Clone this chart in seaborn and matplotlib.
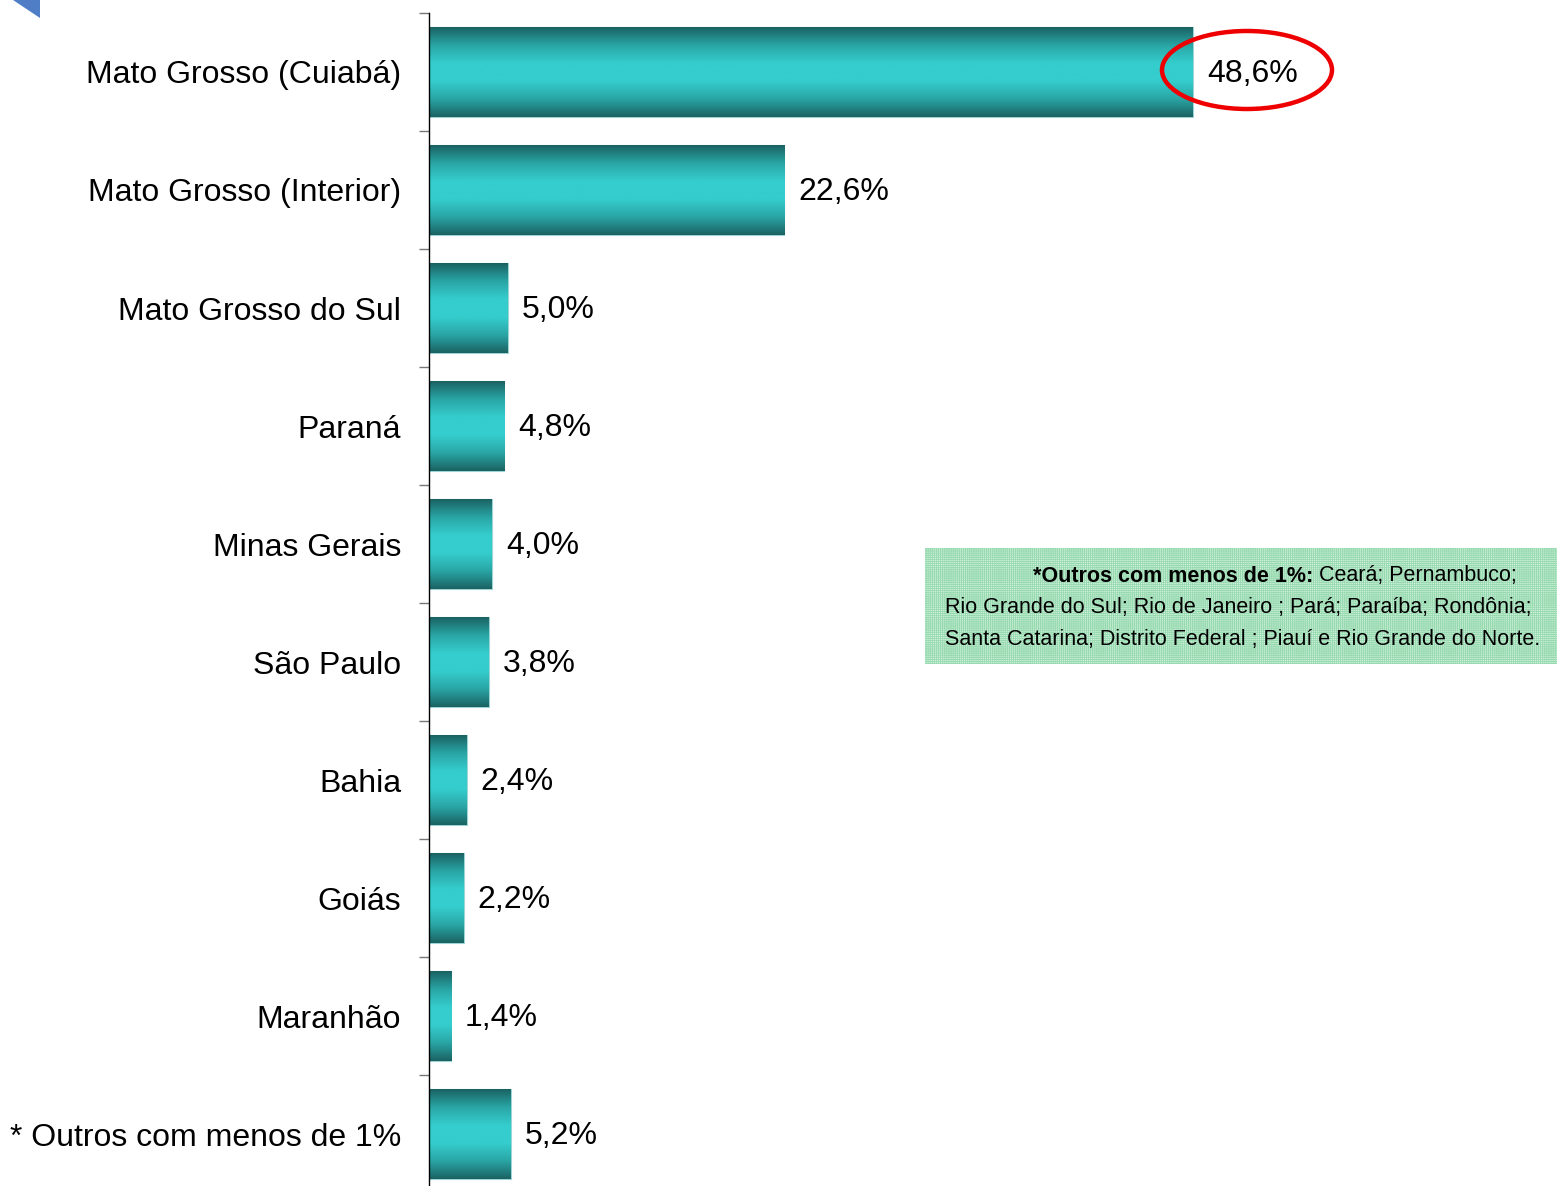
import numpy as np
import pandas as pd
import matplotlib
matplotlib.use("Agg")
import matplotlib.pyplot as plt
import seaborn as sns
from matplotlib.patches import Ellipse, Rectangle, Polygon
from matplotlib.colors import LinearSegmentedColormap

categories = ["Mato Grosso (Cuiabá)", "Mato Grosso (Interior)", "Mato Grosso do Sul",
              "Paraná", "Minas Gerais", "São Paulo", "Bahia", "Goiás", "Maranhão",
              "* Outros com menos de 1%"]
values = [48.6, 22.6, 5.0, 4.8, 4.0, 3.8, 2.4, 2.2, 1.4, 5.2]
value_labels = ["48,6%", "22,6%", "5,0%", "4,8%", "4,0%", "3,8%", "2,4%", "2,2%", "1,4%", "5,2%"]
note_bold = "*Outros com menos de 1%:"
note_lines = [" Ceará; Pernambuco;",
              "Rio Grande do Sul; Rio de Janeiro ; Pará; Paraíba; Rondônia;",
              "Santa Catarina; Distrito Federal ; Piauí e Rio Grande do Norte."]

sns.set_theme(style="white")
plt.rcParams['font.family'] = ['Liberation Sans', 'DejaVu Sans']
plt.rcParams['text.color'] = 'black'

W, H = 1557, 1186
fig = plt.figure(figsize=(W / 100, H / 100), dpi=100)
ax_left = 429 / W
ax_top = (H - 13) / H
ax_bottom = (H - 1193) / H
ax = fig.add_axes([ax_left, ax_bottom, 1 - ax_left, ax_top - ax_bottom])

df = pd.DataFrame({"cat": categories, "val": values})
sns.barplot(data=df, x="val", y="cat", orient="h", width=0.76, color="#33cccc",
            edgecolor="#9fd4d4", linewidth=0.8, ax=ax)

px_per_unit = 15.72
ax.set_xlim(0, (W - 429) / px_per_unit)
ax.set_ylim(len(categories) - 0.5, -0.5)

# gradient fill on bars
cmap = LinearSegmentedColormap.from_list("tealgrad", ["#1b6262", "#2aa5a5", "#35cdcd", "#35cdcd", "#2aa5a5", "#1b6262"])
grad = np.linspace(0, 1, 256).reshape(-1, 1)
for p in ax.patches:
    x0, y0 = p.get_x(), p.get_y()
    w, h = p.get_width(), p.get_height()
    im = ax.imshow(grad, cmap=cmap, aspect="auto", extent=(x0, x0 + w, y0 + h, y0),
                   zorder=p.get_zorder() + 0.1, interpolation="bicubic")
    im.set_clip_path(p)
ax.set_xlim(0, (W - 429) / px_per_unit)
ax.set_ylim(len(categories) - 0.5, -0.5)

# value labels
for i, (v, lab) in enumerate(zip(values, value_labels)):
    ax.text(v + 14 / px_per_unit, i + 0.02, lab, va="center", ha="left", fontsize=23, color="black")

# axes styling
for s in ["top", "right", "bottom"]:
    ax.spines[s].set_visible(False)
ax.spines["left"].set_color("black")
ax.spines["left"].set_linewidth(1.0)
ax.set_xticks([])
ax.set_xlabel("")
ax.set_ylabel("")
ax.tick_params(axis="y", which="major", length=0, pad=20, labelsize=23, labelcolor="black")
ax.set_yticks(np.arange(-0.5, len(categories), 1.0), minor=True)
ax.tick_params(axis="y", which="minor", length=7.2, color="#777777", width=1, left=True)

# red ellipse
ell = Ellipse(((1247 - 429) / px_per_unit, -0.017), 170 / px_per_unit, 78 / 118,
              fill=False, edgecolor="#ee0000", linewidth=3.2, zorder=10, clip_on=False)
ax.add_patch(ell)

# note box
bx0, by0, bx1, by1 = 925 / W, (H - 664) / H, 1557 / W, (H - 548) / H
plt.rcParams['hatch.linewidth'] = 0.6
rect = Rectangle((bx0, by0), bx1 - bx0, by1 - by0, transform=fig.transFigure,
                 facecolor="#d2f1de", edgecolor="#98dab0", linewidth=0, hatch="++++++++", zorder=5)
fig.add_artist(rect)

fs = 15.5
t1 = fig.text(1033 / W, (H - 576) / H, note_bold, fontsize=fs, fontweight="bold",
              va="center", ha="left", zorder=6, color="black")
fig.canvas.draw()
bb = t1.get_window_extent()
fig.text(bb.x1 / W, (H - 576) / H, note_lines[0], fontsize=fs,
         va="center", ha="left", zorder=6, color="black")
fig.text(945 / W, (H - 607) / H, note_lines[1], fontsize=fs,
         va="center", ha="left", zorder=6, color="black")
fig.text(945 / W, (H - 639) / H, note_lines[2], fontsize=fs,
         va="center", ha="left", zorder=6, color="black")

# blue corner fragment
tri = Polygon([(13 / W, 1.0), (40 / W, 1.0), (40 / W, (H - 18) / H)], closed=True,
              transform=fig.transFigure, facecolor="#4f7ec6", edgecolor="none")
fig.add_artist(tri)

fig.savefig("out.png", dpi=100)
